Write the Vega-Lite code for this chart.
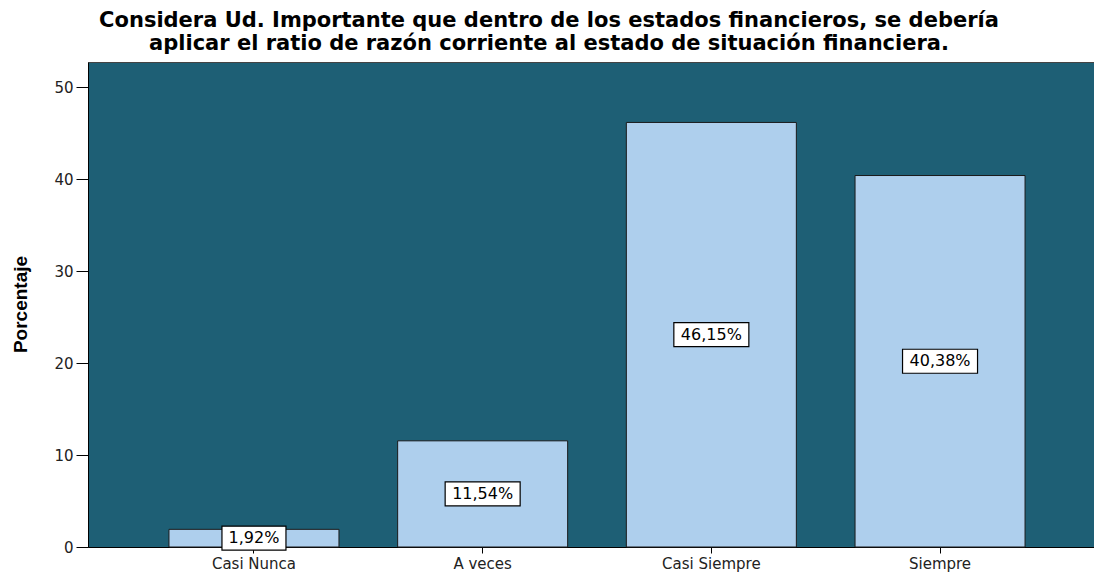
{
  "$schema": "https://vega.github.io/schema/vega-lite/v6.json",
  "width": 1006,
  "height": 485,
  "autosize": {"type": "none"},
  "padding": {"left": 88, "top": 62, "right": 0, "bottom": 25},
  "background": "white",
  "title": {
    "text": ["Considera Ud. Importante que dentro de los estados financieros, se debería", "aplicar el ratio de razón corriente al estado de situación financiera."],
    "font": "DejaVu Sans",
    "fontSize": 21,
    "fontWeight": "bold",
    "color": "black",
    "anchor": "middle",
    "frame": "group",
    "dx": -42,
    "offset": 8,
    "lineHeight": 23
  },
  "data": {
    "values": [
      {"categoria": "Casi Nunca", "pct": 1.92, "label": "1,92%"},
      {"categoria": "A veces", "pct": 11.54, "label": "11,54%"},
      {"categoria": "Casi Siempre", "pct": 46.15, "label": "46,15%"},
      {"categoria": "Siempre", "pct": 40.38, "label": "40,38%"}
    ]
  },
  "encoding": {
    "x": {
      "field": "categoria",
      "type": "nominal",
      "sort": null,
      "scale": {"range": [0, 1018], "paddingInner": 0.2566, "paddingOuter": 0.354},
      "axis": {
        "title": null,
        "labelAngle": 0,
        "labelFont": "DejaVu Sans",
        "labelFontSize": 15,
        "labelColor": "#222",
        "tickSize": 6,
        "tickColor": "black",
        "domainColor": "black",
        "labelPadding": 3,
        "grid": false
      }
    }
  },
  "layer": [
    {
      "mark": {"type": "bar", "fill": "#AECFED", "stroke": "#1a1a1a", "strokeWidth": 1},
      "encoding": {
        "y": {
          "field": "pct",
          "type": "quantitative",
          "scale": {"domain": [0, 52.72], "nice": false, "zero": true},
          "axis": {
            "values": [0, 10, 20, 30, 40, 50],
            "title": "Porcentaje",
            "titleFont": "Liberation Sans",
            "titleFontSize": 19,
            "titleFontWeight": "bold",
            "titleColor": "black",
            "titleAngle": -90,
            "titleX": -68,
            "titleY": 242,
            "titleAlign": "center",
            "titleBaseline": "middle",
            "labelFont": "DejaVu Sans",
            "labelFontSize": 15,
            "labelColor": "#222",
            "tickSize": 12,
            "tickColor": "black",
            "labelPadding": 3,
            "domainColor": "black",
            "grid": false
          }
        }
      }
    },
    {
      "mark": {"type": "point", "filled": true, "fill": "white", "stroke": "black", "strokeWidth": 1.2, "opacity": 1},
      "encoding": {
        "y": {"field": "pct", "type": "quantitative", "scale": {"domain": [0, 105.44], "nice": false}, "axis": null},
        "shape": {
          "condition": {"test": "datum.categoria === 'Casi Nunca'", "value": "M-1,-0.375L1,-0.375L1,0.375L-1,0.375Z"},
          "value": "M-1,-0.32L1,-0.32L1,0.32L-1,0.32Z"
        },
        "size": {
          "condition": {"test": "datum.categoria === 'Casi Nunca'", "value": 4096},
          "value": 5625
        }
      }
    },
    {
      "mark": {"type": "text", "font": "DejaVu Sans", "fontSize": 16, "color": "black", "baseline": "middle", "align": "center"},
      "encoding": {
        "y": {"field": "pct", "type": "quantitative", "scale": {"domain": [0, 105.44], "nice": false}, "axis": null},
        "text": {"field": "label", "type": "nominal"}
      }
    }
  ],
  "resolve": {"scale": {"y": "independent"}},
  "config": {
    "view": {"fill": "#1E5F75", "stroke": "#444", "strokeWidth": 1}
  }
}
